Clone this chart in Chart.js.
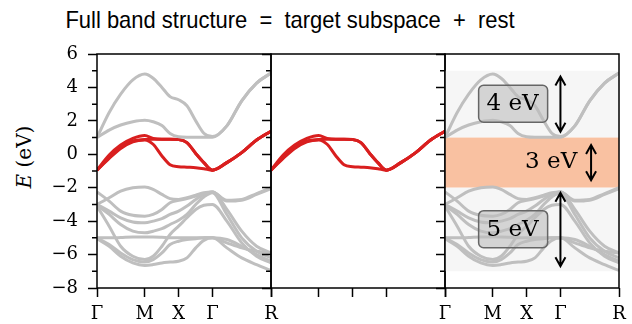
<!DOCTYPE html>
<html>
<head>
<meta charset="utf-8">
<script src="https://cdn.jsdelivr.net/npm/chart.js@4"></script>
<style>
  body { margin: 0; background: #fff; }
  #fig { position: relative; width: 632px; height: 324px; overflow: hidden; }
  canvas { position: absolute; top: 0; }
  #title { position: absolute; left: 0; width: 580px; top: 6px; text-align: center; white-space: pre;
           font: 24px "Liberation Sans", sans-serif; color: #000; transform: scaleX(0.915); transform-origin: 290px 0; }
  #ylab { position: absolute; left: 24px; top: 157px; transform: translate(-50%, -50%) rotate(-90deg);
          font: 20px "DejaVu Serif", serif; white-space: nowrap; color: #000; }
</style>
</head>
<body>
<div id="fig">
  <div id="title">Full band structure  =  target subspace  +  rest</div>
  <div id="ylab"><i>E</i> (eV)</div>
  <canvas id="full" width="286" height="324" style="left:0px"></canvas>
  <canvas id="target" width="204" height="324" style="left:256px"></canvas>
  <canvas id="rest" width="204" height="324" style="left:430px"></canvas>
</div>
<script>
// k-path  Γ - M - X - Γ - R  (path length, cubic lattice units)
const kPath = [0, 0.18, 0.35, 0.53, 0.707, 0.83, 0.96, 1.08, 1.207, 1.33, 1.46, 1.58, 1.707, 1.92, 2.14, 2.36, 2.573];
const kTicks = [0, 0.707, 1.207, 1.707, 2.573];
const kLabels = ["Γ", "M", "X", "Γ", "R"];

// target subspace (red)
const target1 = [-0.95, -0.05, 0.55, 0.95, 1.12, 0.95, 0.9, 0.9, 0.88, 0.7, 0.05, -0.5, -0.95, -0.5, 0.1, 0.85, 1.38];
const target2 = [-0.95, -0.2, 0.4, 0.8, 0.88, 0.9, 0.9, 0.9, 0.88, 0.7, 0.05, -0.5, -0.95, -0.5, 0.1, 0.85, 1.38];
const target3 = [-0.95, -0.25, 0.35, 0.75, 0.86, 0.6, -0.1, -0.62, -0.74, -0.77, -0.8, -0.86, -0.95, -0.5, 0.1, 0.85, 1.38];

// rest (grey): above
const upper1 = [1.0, 2.5, 3.6, 4.45, 4.8, 4.55, 4.0, 3.45, 3.26, 2.9, 2.0, 1.26, 1.06, 1.7, 3.2, 4.26, 4.86];
const upper2 = [1.0, 1.45, 1.75, 1.95, 2.04, 1.95, 1.72, 1.25, 1.05, 1.02, 1.02, 1.02, 1.02, 1.7, 3.2, 4.26, 4.86];
// rest (grey): below
const lower1 = [-3.0, -2.6, -2.2, -2.0, -1.95, -2.1, -2.4, -2.65, -2.7, -2.6, -2.45, -2.3, -2.25, -2.75, -2.7, -2.35, -2.0];
const lower2 = [-2.25, -2.8, -3.4, -3.65, -3.7, -3.6, -3.3, -2.9, -2.75, -2.65, -2.5, -2.35, -2.25, -2.8, -2.75, -2.4, -2.05];
const lower3 = [-3.0, -3.4, -3.8, -4.05, -4.1, -4.0, -3.85, -3.6, -3.4, -3.1, -2.7, -2.4, -2.25, -3.3, -4.6, -5.5, -5.9];
const lower4 = [-3.05, -3.6, -4.2, -4.6, -4.7, -4.6, -4.45, -4.2, -3.95, -3.6, -3.0, -2.55, -2.3, -3.6, -5.0, -5.8, -6.2];
const lower5 = [-3.1, -4.3, -5.5, -6.1, -6.3, -6.1, -5.5, -4.8, -4.3, -3.8, -3.3, -3.05, -3.0, -4.0, -5.3, -6.1, -6.5];
const lower6 = [-5.0, -5.0, -4.98, -4.95, -4.95, -4.95, -4.97, -5.0, -5.0, -5.0, -5.0, -5.0, -5.0, -5.1, -5.5, -6.0, -6.4];
const lower7 = [-5.05, -5.5, -6.1, -6.5, -6.65, -6.6, -6.5, -6.45, -6.4, -6.2, -5.6, -5.15, -5.0, -5.6, -6.2, -6.6, -6.95];
const lower8 = [-5.0, -5.4, -5.9, -6.3, -6.45, -6.3, -5.9, -5.4, -5.2, -5.1, -5.05, -5.0, -5.0, -5.3, -5.6, -5.8, -5.9];

// energy windows on the right panel and their widths
const windowEdges = [5, 1, -2, -7];
const gapLabels = ["4 eV", "3 eV", "5 eV"];

const targetBands = [target1, target2, target3];
const restBands = [upper1, upper2, lower1, lower2, lower3, lower4, lower5, lower6, lower7, lower8];

const RED = "#d91f1f";
const GREY = "#bfbfbf";
const serif = (size) => ({ family: "DejaVu Serif", size: size });

function bandSet(bands, color) {
  return bands.map((b) => ({
    data: b.map((e, i) => ({ x: kPath[i], y: e })),
    borderColor: color,
    borderWidth: 3,
    pointRadius: 0,
    cubicInterpolationMode: "monotone",
  }));
}

function fmt(v) {
  return v < 0 ? "\u2212" + Math.abs(v) : String(v);
}

const framePlugin = {
  id: "frame",
  afterDraw(chart) {
    const { ctx, chartArea: a, scales } = chart;
    ctx.save();
    ctx.strokeStyle = "#000";
    ctx.lineWidth = 1.5;
    ctx.strokeRect(a.left, a.top, a.right - a.left, a.bottom - a.top);
    // minor y ticks
    ctx.beginPath();
    for (let v = -7; v <= 5; v += 2) {
      const y = scales.y.getPixelForValue(v);
      ctx.moveTo(a.left - 5, y);
      ctx.lineTo(a.left, y);
    }
    ctx.stroke();
    ctx.restore();
  },
};

function roundRect(ctx, x, y, w, h, r) {
  ctx.beginPath();
  ctx.moveTo(x + r, y);
  ctx.arcTo(x + w, y, x + w, y + h, r);
  ctx.arcTo(x + w, y + h, x, y + h, r);
  ctx.arcTo(x, y + h, x, y, r);
  ctx.arcTo(x, y, x + w, y, r);
  ctx.closePath();
}

function arrow(ctx, x, y1, y2) {
  ctx.beginPath();
  ctx.moveTo(x, y1);
  ctx.lineTo(x, y2);
  ctx.moveTo(x - 5, y1 + 9);
  ctx.lineTo(x, y1);
  ctx.lineTo(x + 5, y1 + 9);
  ctx.moveTo(x - 5, y2 - 9);
  ctx.lineTo(x, y2);
  ctx.lineTo(x + 5, y2 - 9);
  ctx.stroke();
}

const windowsPlugin = {
  id: "windows",
  beforeDatasetsDraw(chart) {
    const { ctx, chartArea: a, scales } = chart;
    const colors = ["#f6f6f6", "#f9c1a1", "#f6f6f6"];
    ctx.save();
    for (let i = 0; i < 3; i++) {
      const y1 = scales.y.getPixelForValue(windowEdges[i]);
      const y2 = scales.y.getPixelForValue(windowEdges[i + 1]);
      ctx.fillStyle = colors[i];
      ctx.fillRect(a.left, y1, a.right - a.left, y2 - y1);
    }
    ctx.restore();
  },
  afterDatasetsDraw(chart) {
    const { ctx, scales } = chart;
    const x = scales.x, y = scales.y;
    // arrow k-position and inset from window edges; label k-position, drop below top edge, boxed
    const arrows = [[1.707, 0.35], [2.16, 0.45], [1.707, 0.3]];
    const labels = [[1.0, 1.95, true], [1.57, 1.4, false], [1.0, 2.45, true]];
    ctx.save();
    ctx.lineWidth = 2;
    ctx.strokeStyle = "#000";
    ctx.font = "23px 'DejaVu Serif'";
    ctx.textBaseline = "middle";
    for (let i = 0; i < 3; i++) {
      const top = windowEdges[i], bot = windowEdges[i + 1];
      const ax = x.getPixelForValue(arrows[i][0]);
      arrow(ctx, ax, y.getPixelForValue(top - arrows[i][1]), y.getPixelForValue(bot + arrows[i][1]));
      const lx = x.getPixelForValue(labels[i][0]);
      const ly = y.getPixelForValue(top - labels[i][1]);
      if (labels[i][2]) {
        roundRect(ctx, lx - 34, ly - 18, 69, 37, 5);
        ctx.fillStyle = "rgba(190,190,190,0.6)";
        ctx.fill();
        ctx.save();
        ctx.strokeStyle = "#666";
        ctx.lineWidth = 1.5;
        ctx.stroke();
        ctx.restore();
      }
      ctx.fillStyle = "#000";
      ctx.textAlign = "center";
      ctx.fillText(gapLabels[i], lx, ly + 1);
    }
    ctx.restore();
  },
};

function panelOptions(showLabels, yWidth, padRight) {
  return {
    responsive: false,
    animation: false,
    layout: { padding: { top: 54, right: padRight, bottom: 0, left: 0 } },
    plugins: { legend: { display: false }, tooltip: { enabled: false } },
    scales: {
      x: {
        type: "linear",
        min: 0,
        max: kPath[kPath.length - 1],
        afterBuildTicks: (s) => { s.ticks = kTicks.map((v) => ({ value: v })); },
        afterFit: (s) => { s.height = 36; },
        border: { display: false },
        grid: { drawOnChartArea: false, tickLength: 9, tickWidth: 1.5, tickColor: "#000" },
        ticks: {
          padding: 7, color: "#000", font: serif(18), maxRotation: 0, autoSkip: false,
          callback: (v, i) => (showLabels ? kLabels[i] : ""),
        },
      },
      y: {
        min: -8,
        max: 6,
        afterFit: (s) => { s.width = yWidth; },
        border: { display: false },
        grid: { drawOnChartArea: false, tickLength: 9, tickWidth: 1.5, tickColor: "#000" },
        ticks: {
          stepSize: 2, padding: 10, color: "#000", font: serif(18),
          callback: (v) => (showLabels ? fmt(v) : ""),
        },
      },
    },
  };
}

new Chart(document.getElementById("full"), {
  type: "line",
  data: { datasets: [...bandSet(restBands, GREY), ...bandSet(targetBands, RED)] },
  options: panelOptions(true, 97, 15),
  plugins: [framePlugin],
});

new Chart(document.getElementById("target"), {
  type: "line",
  data: { datasets: bandSet(targetBands, RED) },
  options: panelOptions(false, 15, 15),
  plugins: [framePlugin],
});

new Chart(document.getElementById("rest"), {
  type: "line",
  data: { datasets: bandSet(restBands, GREY) },
  options: panelOptions(true, 15, 15),
  plugins: [windowsPlugin, framePlugin],
});
</script>
</body>
</html>
